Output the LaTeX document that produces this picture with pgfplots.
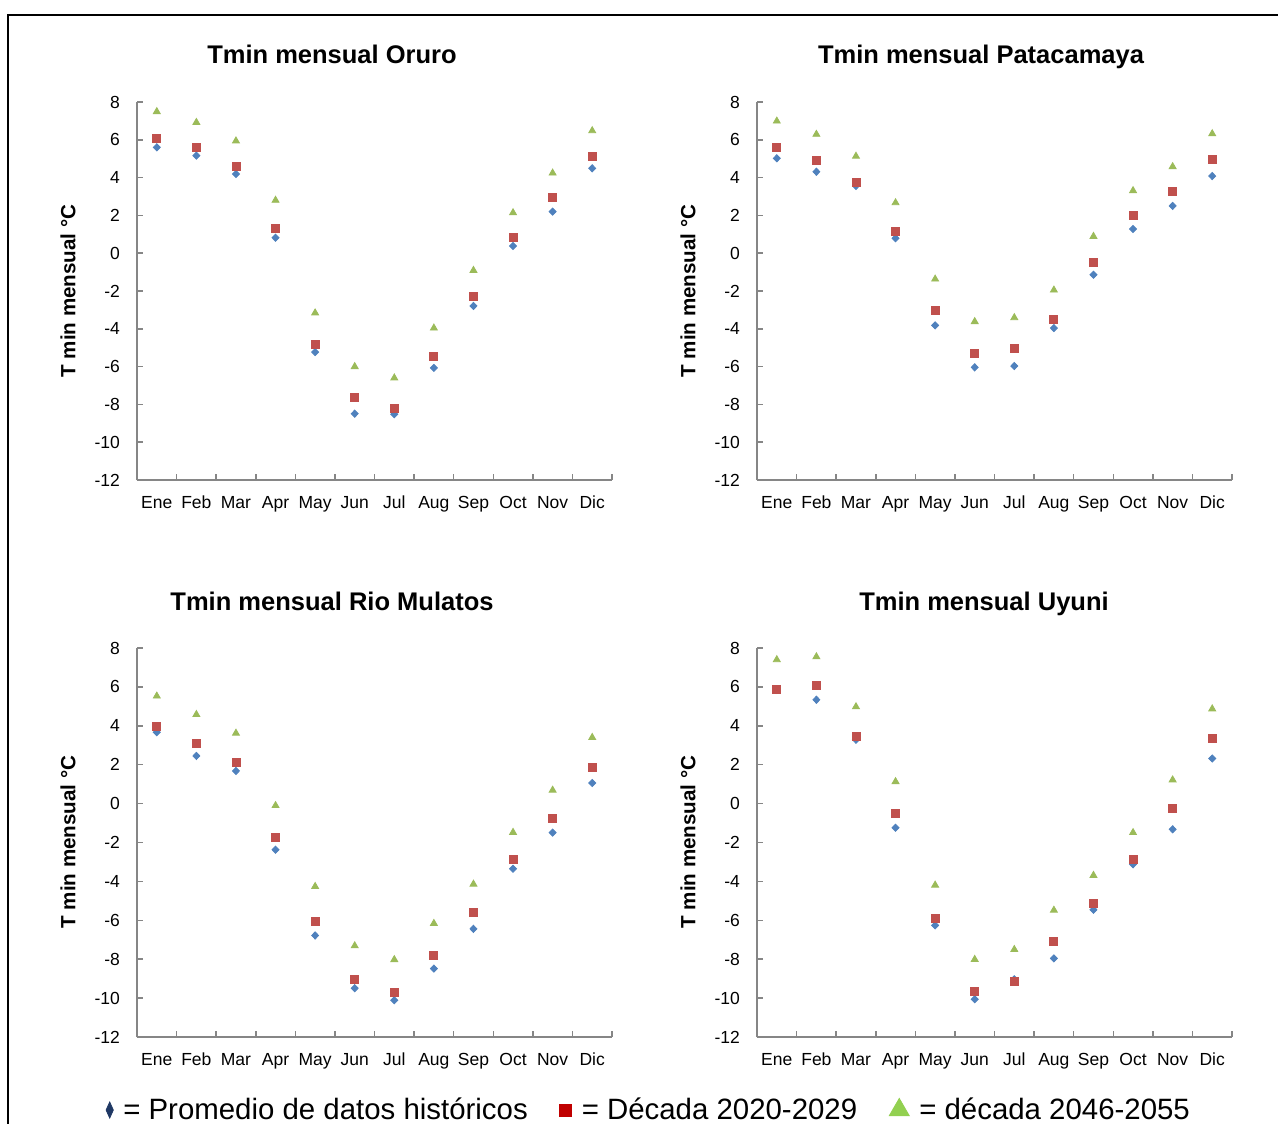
\documentclass[border=0pt]{standalone}
\usepackage{fontspec}
\setmainfont{Liberation Sans}
\usepackage{pgfplots}
\usepackage{pgfplotstable}
\pgfplotsset{compat=1.18}

\definecolor{histblue}{HTML}{4F81BD}
\definecolor{decred}{HTML}{C0504D}
\definecolor{decgreen}{HTML}{9BBB59}
\definecolor{axgray}{HTML}{868686}
\definecolor{legnavy}{HTML}{1F3864}
\definecolor{legred}{HTML}{C00000}
\definecolor{leggreen}{HTML}{92D050}

% columns: month index, historical mean, decade 2020-2029, decade 2046-2055
\pgfplotstableread{
x h a b
1 5.60 6.08 7.49
2 5.16 5.58 6.92
3 4.19 4.60 5.94
4 0.82 1.30 2.80
5 -5.23 -4.84 -3.16
6 -8.49 -7.64 -6.00
7 -8.52 -8.21 -6.60
8 -6.07 -5.47 -3.96
9 -2.79 -2.30 -0.91
10 0.38 0.86 2.14
11 2.20 2.94 4.24
12 4.49 5.11 6.48
}\oruro
\pgfplotstableread{
x h a b
1 5.02 5.58 6.99
2 4.31 4.91 6.29
3 3.56 3.75 5.13
4 0.79 1.16 2.67
5 -3.82 -3.04 -1.37
6 -6.04 -5.32 -3.62
7 -5.97 -5.05 -3.41
8 -3.96 -3.48 -1.95
9 -1.14 -0.50 0.89
10 1.28 1.98 3.31
11 2.50 3.29 4.58
12 4.08 4.97 6.32
}\patacamaya
\pgfplotstableread{
x h a b
1 3.67 3.95 5.53
2 2.45 3.09 4.58
3 1.68 2.14 3.62
4 -2.37 -1.75 -0.10
5 -6.78 -6.04 -4.26
6 -9.49 -9.05 -7.31
7 -10.11 -9.70 -8.02
8 -8.48 -7.78 -6.16
9 -6.44 -5.61 -4.14
10 -3.35 -2.87 -1.48
11 -1.49 -0.77 0.69
12 1.06 1.84 3.40
}\riomulatos
\pgfplotstableread{
x h a b
1 5.85 5.85 7.40
2 5.34 6.08 7.55
3 3.28 3.48 4.98
4 -1.24 -0.50 1.13
5 -6.26 -5.89 -4.19
6 -10.06 -9.68 -8.01
7 -9.03 -9.15 -7.50
8 -7.96 -7.07 -5.48
9 -5.46 -5.15 -3.69
10 -3.12 -2.88 -1.49
11 -1.32 -0.24 1.22
12 2.32 3.34 4.87
}\uyuni

\pgfplotsset{
  tmin/.style={
    scale only axis,
    width=237.5pt,
    xmin=0.5, xmax=12.5, ymin=-12, ymax=8,
    axis x line*=bottom, axis y line*=left,
    axis line style={axgray, line width=0.75pt},
    tick style={axgray, line width=0.75pt},
    tick align=inside,
    major tick length=3pt,
    xtick={0.5,1.5,...,12.5},
    x tick label as interval,
    xticklabels={Ene,Feb,Mar,Apr,May,Jun,Jul,Aug,Sep,Oct,Nov,Dic},
    ytick={-12,-10,...,8},
    yticklabels={-12,-10,-8,-6,-4,-2,0,2,4,6,8},
    tick label style={font=\fontsize{8.75}{10}\selectfont, text=black},
    yticklabel style={xshift=-5pt},
    xticklabel style={yshift=-4.5pt},
    clip=false,
  },
  hist/.style={only marks, mark=diamond*, mark size=1.8pt, mark options={xscale=1.3}, color=histblue, forget plot},
  deca/.style={only marks, mark=square*, mark size=2pt, color=decred, forget plot},
  decb/.style={only marks, mark=triangle*, mark size=2pt, color=decgreen, forget plot},
}

\newcommand{\titlefont}{\fontsize{12.75}{15}\selectfont\bfseries}
\newcommand{\ylabfont}{\fontsize{10.3}{12}\selectfont\bfseries}

\begin{document}
\begin{tikzpicture}
\useasboundingbox (0,0) rectangle (639pt,-561.5pt);
\draw[line width=1pt] (4pt,-570pt) -- (4pt,-7.5pt) -- (645pt,-7.5pt);

% top-left: Oruro
\begin{axis}[tmin, height=189pt, at={(68.5pt,-240pt)}, anchor=south west]
\addplot[hist] table[x=x,y=h] {\oruro};
\addplot[deca] table[x=x,y=a] {\oruro};
\addplot[decb] table[x=x,y=b] {\oruro};
\end{axis}
% top-right: Patacamaya
\begin{axis}[tmin, height=189pt, at={(378.5pt,-240pt)}, anchor=south west]
\addplot[hist] table[x=x,y=h] {\patacamaya};
\addplot[deca] table[x=x,y=a] {\patacamaya};
\addplot[decb] table[x=x,y=b] {\patacamaya};
\end{axis}
% bottom-left: Rio Mulatos
\begin{axis}[tmin, height=194.5pt, at={(68.5pt,-518.5pt)}, anchor=south west,
  legend columns=3,
  legend image code/.code={\draw[#1] plot coordinates {(0pt,0pt)};},
  legend style={draw=none, fill=none, at={(axis description cs:1.08,-0.1877)}, anchor=center,
    font=\fontsize{14.7}{17}\selectfont,
    /tikz/every odd column/.append style={column sep=3pt},
    /tikz/every even column/.append style={column sep=14pt}},
]
\addlegendimage{only marks, mark=diamond*, mark size=4pt, mark options={xscale=0.6}, color=legnavy}
\addlegendentry{= Promedio de datos históricos}
\addlegendimage{only marks, mark=square*, mark size=3pt, color=legred}
\addlegendentry{= Década 2020-2029}
\addlegendimage{only marks, mark=triangle*, mark size=5.8pt, color=leggreen}
\addlegendentry{= década 2046-2055}
\addplot[hist] table[x=x,y=h] {\riomulatos};
\addplot[deca] table[x=x,y=a] {\riomulatos};
\addplot[decb] table[x=x,y=b] {\riomulatos};
\end{axis}
% bottom-right: Uyuni
\begin{axis}[tmin, height=194.5pt, at={(378.5pt,-518.5pt)}, anchor=south west]
\addplot[hist] table[x=x,y=h] {\uyuni};
\addplot[deca] table[x=x,y=a] {\uyuni};
\addplot[decb] table[x=x,y=b] {\uyuni};
\end{axis}

% titles
\node[font=\titlefont, anchor=base] at (166pt,-32pt) {Tmin mensual Oruro};
\node[font=\titlefont, anchor=base] at (490.5pt,-32pt) {Tmin mensual Patacamaya};
\node[font=\titlefont, anchor=base] at (166pt,-305pt) {Tmin mensual Rio Mulatos};
\node[font=\titlefont, anchor=base] at (492pt,-305pt) {Tmin mensual Uyuni};
% y labels
\node[font=\ylabfont, rotate=90] at (34pt,-145.5pt) {T min mensual °C};
\node[font=\ylabfont, rotate=90] at (344pt,-145.5pt) {T min mensual °C};
\node[font=\ylabfont, rotate=90] at (34pt,-421pt) {T min mensual °C};
\node[font=\ylabfont, rotate=90] at (344pt,-421pt) {T min mensual °C};
\end{tikzpicture}
\end{document}
